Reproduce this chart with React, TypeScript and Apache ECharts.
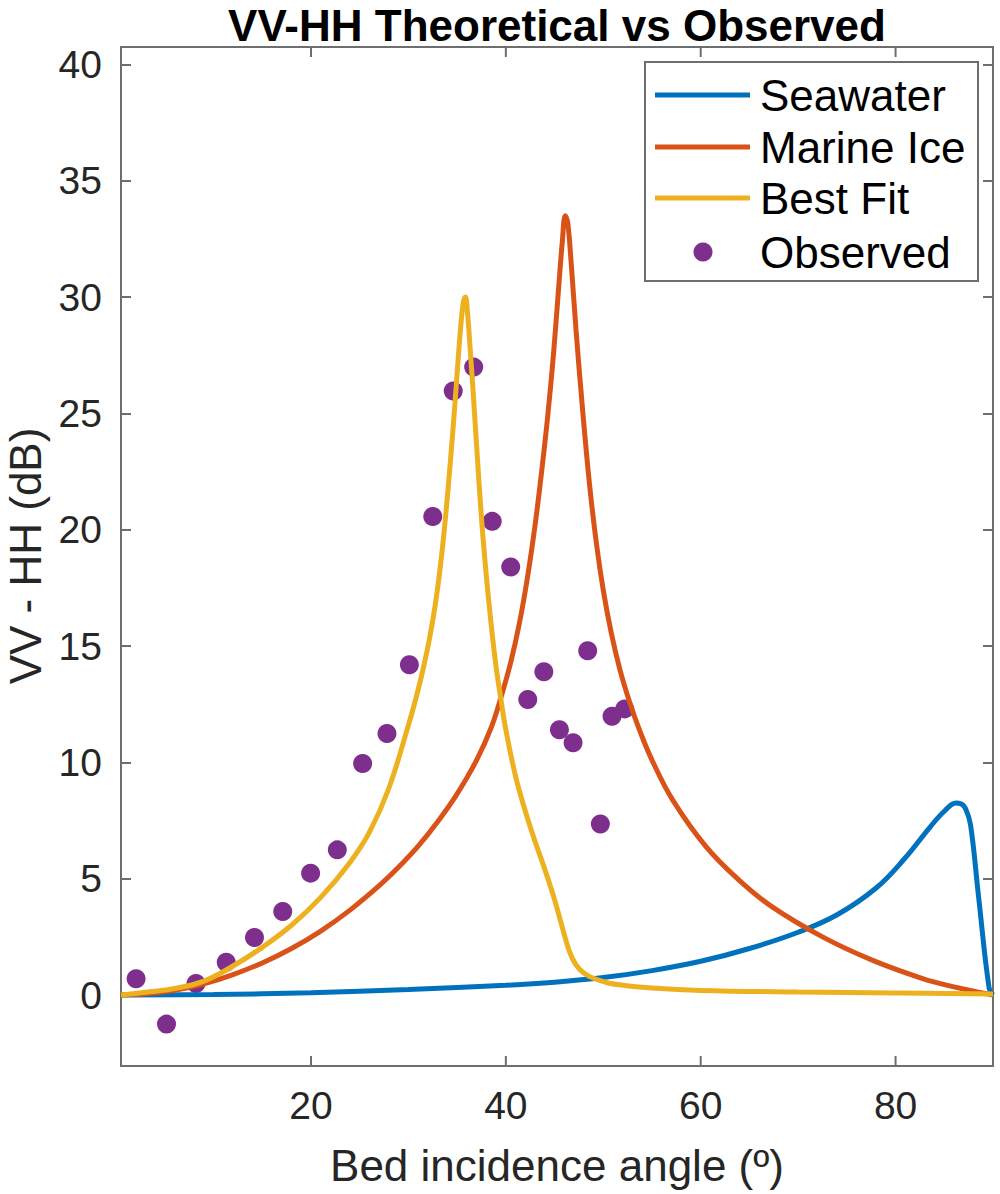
import React, { useEffect, useRef } from "react";
import * as echarts from "echarts";

// Theoretical VV-HH curves, [incidence angle (deg), VV-HH (dB)]
const seawater: [number, number][] = [
  [0.5, 0], [10, 0.02], [20, 0.1], [30, 0.24], [40, 0.42], [45, 0.55],
  [50, 0.75], [55, 1.05], [60, 1.45], [65, 2.0], [70, 2.7], [74, 3.45],
  [78, 4.6], [81, 5.9], [83.5, 7.2], [85, 7.9], [86.2, 8.25], [86.7, 8.22],
  [87.2, 8.0], [87.7, 7.3], [88.5, 4.3], [89.6, 0.3], [90, 0],
];

const marineIce: [number, number][] = [
  [0.5, 0], [3, 0.05], [6, 0.2], [9, 0.48], [12, 0.88], [15, 1.38], [18, 2.0],
  [21, 2.75], [24, 3.65], [27, 4.7], [29, 5.5], [31, 6.4], [33, 7.45],
  [35, 8.65], [37, 10.1], [38.5, 11.5], [39.5, 12.8], [40.5, 14.3],
  [41.4, 16.0], [42.2, 17.9], [43.0, 20.2], [43.7, 22.6], [44.3, 24.9],
  [44.9, 27.6], [45.4, 30.3], [45.8, 32.4], [46.1, 33.5], [46.35, 33.2],
  [46.7, 31.5], [47.2, 28.6], [47.9, 25.05], [48.6, 21.9], [49.3, 19.4],
  [50.0, 17.4], [50.8, 15.6], [51.7, 14.0], [52.7, 12.6], [53.8, 11.3],
  [55, 10.1], [57.1, 8.4], [60.5, 6.4], [63.9, 4.95], [67.3, 3.8],
  [72.5, 2.5], [77.6, 1.5], [82.7, 0.72], [86, 0.35], [90, 0],
];

const bestFit: [number, number][] = [
  [0.5, 0], [3, 0.12], [6, 0.28], [9, 0.6], [12, 1.25], [15, 2.05], [18, 3.0],
  [21, 4.2], [24, 5.7], [26, 7.0], [28, 8.9], [30, 11.6], [30.8, 12.8],
  [31.5, 14.0], [32.2, 15.4], [32.8, 16.9], [33.3, 18.5], [33.8, 20.5],
  [34.3, 22.9], [34.7, 25.0], [35.1, 27.3], [35.4, 28.9], [35.65, 29.8],
  [35.85, 30.0], [36.05, 29.4], [36.3, 28.0], [36.6, 26.2], [37.0, 23.6],
  [37.5, 20.5], [38.0, 18.0], [38.5, 15.9], [39.0, 14.1], [39.5, 12.7],
  [40.0, 11.4], [41.0, 9.4], [42.0, 7.9], [43.0, 6.6], [44.0, 5.4],
  [45.0, 4.1], [45.8, 2.9], [46.5, 1.9], [47.2, 1.3], [48.0, 0.95],
  [49.0, 0.72], [50.5, 0.52], [52.0, 0.42], [55, 0.3], [60, 0.2],
  [70, 0.13], [80, 0.09], [90, 0.05],
];

// Measured VV-HH
const observed: [number, number][] = [
  [2.05, 0.7], [5.17, -1.25], [8.2, 0.5], [11.3, 1.41], [14.2, 2.47],
  [17.1, 3.59], [19.96, 5.24], [22.7, 6.24], [25.3, 9.95], [27.8, 11.24],
  [30.1, 14.2], [32.5, 20.57], [34.6, 25.96], [36.7, 26.99], [38.6, 20.36],
  [40.5, 18.4], [42.25, 12.7], [43.9, 13.9], [45.5, 11.4], [46.9, 10.84],
  [48.4, 14.8], [49.7, 7.35], [50.9, 11.98], [52.2, 12.3],
];

const xTicks = [20, 40, 60, 80];
const yTicks = [0, 5, 10, 15, 20, 25, 30, 35, 40];

const seriesNames = ["Seawater", "Marine Ice", "Best Fit", "Observed"];
const seriesColors = ["#0072BD", "#D95319", "#EDB120", "#7E2F8E"];

const FONT = "'Liberation Sans', Arial, Helvetica, sans-serif";
const AXIS_COLOR = "#6e6e6e";
const TEXT_COLOR = "#262626";

const GRID = { left: 121, right: 7, top: 47, bottom: 128 };
const CHART_H = 1194;
const TICK_LEN = 10;

// Legend box drawn with graphic elements (line swatches + marker)
function legendGraphics() {
  const left = 645;
  const top = 62;
  const rowY = [95, 147, 198, 252];
  const els: any[] = [
    {
      type: "rect",
      z: 100,
      shape: { x: left, y: top, width: 333, height: 219 },
      style: { fill: "#ffffff", stroke: AXIS_COLOR, lineWidth: 2 },
    },
  ];
  seriesNames.forEach((name, i) => {
    const y = rowY[i];
    if (i < 3) {
      els.push({
        type: "line",
        z: 101,
        shape: { x1: 655, y1: y, x2: 750, y2: y },
        style: { stroke: seriesColors[i], lineWidth: 5 },
      });
    } else {
      els.push({
        type: "circle",
        z: 101,
        shape: { cx: 703, cy: y, r: 9.5 },
        style: { fill: seriesColors[i] },
      });
    }
    els.push({
      type: "text",
      z: 101,
      x: 760,
      y,
      style: {
        text: name,
        font: `44px ${FONT}`,
        fill: "#000",
        align: "left",
        verticalAlign: "middle",
        lineHeight: 44,
      },
    });
  });
  return els;
}

function titleGraphics() {
  return [
    {
      type: "text",
      x: 557,
      y: 25,
      style: {
        text: "VV-HH Theoretical vs Observed",
        font: `bold 44px ${FONT}`,
        fill: "#000",
        align: "center",
        verticalAlign: "middle",
        lineHeight: 36,
      },
    },
    {
      type: "text",
      x: 557,
      y: 1165,
      style: {
        text: "Bed incidence angle (º)",
        font: `44px ${FONT}`,
        fill: TEXT_COLOR,
        align: "center",
        verticalAlign: "middle",
        lineHeight: 44,
      },
    },
    {
      type: "text",
      x: 25,
      y: 556,
      rotation: Math.PI / 2,
      style: {
        text: "VV - HH (dB)",
        font: `44px ${FONT}`,
        fill: TEXT_COLOR,
        align: "center",
        verticalAlign: "middle",
        lineHeight: 36,
      },
    },
  ];
}

export default function App() {
  const ref = useRef<HTMLDivElement>(null);

  useEffect(() => {
    if (!ref.current) return;
    const chart = echarts.init(ref.current, undefined, { renderer: "svg" });

    const yTick = {
      show: true,
      inside: true,
      length: TICK_LEN,
      customValues: yTicks,
      lineStyle: { color: AXIS_COLOR, width: 2 },
    };

    const lineSeries = (i: number, data: [number, number][]) => ({
      name: seriesNames[i],
      type: "line",
      data,
      symbol: "none",
      smooth: 0.4,
      lineStyle: { color: seriesColors[i], width: 5 },
      itemStyle: { color: seriesColors[i] },
    });

    chart.setOption({
      animation: false,
      backgroundColor: "#ffffff",
      grid: {
        ...GRID,
        containLabel: false,
        show: true,
        borderColor: AXIS_COLOR,
        borderWidth: 2,
        backgroundColor: "transparent",
      },
      xAxis: [
        {
          type: "value",
          position: "bottom",
          min: 0.5,
          max: 90,
          axisLine: { show: false, onZero: false },
          axisTick: { show: false },
          splitLine: { show: false },
          axisLabel: {
            customValues: xTicks,
            fontSize: 39,
            fontFamily: FONT,
            color: TEXT_COLOR,
            margin: 20,
          },
        },
      ],
      yAxis: [
        {
          type: "value",
          position: "left",
          min: -3.05,
          max: 40.75,
          axisLine: { show: false, onZero: false },
          axisTick: yTick,
          splitLine: { show: false },
          axisLabel: {
            customValues: yTicks,
            fontSize: 39,
            fontFamily: FONT,
            color: TEXT_COLOR,
            margin: 19,
          },
        },
        {
          type: "value",
          position: "right",
          min: -3.05,
          max: 40.75,
          axisLine: { show: false, onZero: false },
          axisTick: yTick,
          splitLine: { show: false },
          axisLabel: { show: false },
        },
      ],
      series: [
        lineSeries(0, seawater),
        lineSeries(1, marineIce),
        lineSeries(2, bestFit),
        {
          name: seriesNames[3],
          type: "scatter",
          data: observed,
          symbol: "circle",
          symbolSize: 19,
          itemStyle: { color: seriesColors[3], opacity: 1 },
        },
      ],
    });

    // Inward ticks on the bottom and top edges of the plot box
    const yBottom = CHART_H - GRID.bottom;
    const yTop = GRID.top;
    const xTickMarks: any[] = [];
    xTicks.forEach((v) => {
      const px = chart.convertToPixel({ xAxisIndex: 0 }, v) as number;
      xTickMarks.push(
        {
          type: "line",
          z: 50,
          shape: { x1: px, y1: yBottom, x2: px, y2: yBottom - TICK_LEN },
          style: { stroke: AXIS_COLOR, lineWidth: 2 },
        },
        {
          type: "line",
          z: 50,
          shape: { x1: px, y1: yTop, x2: px, y2: yTop + TICK_LEN },
          style: { stroke: AXIS_COLOR, lineWidth: 2 },
        }
      );
    });

    chart.setOption({
      graphic: [...titleGraphics(), ...xTickMarks, ...legendGraphics()],
    });

    return () => chart.dispose();
  }, []);

  return (
    <div
      ref={ref}
      style={{ position: "fixed", left: 0, top: 0, width: 1000, height: CHART_H }}
    />
  );
}
